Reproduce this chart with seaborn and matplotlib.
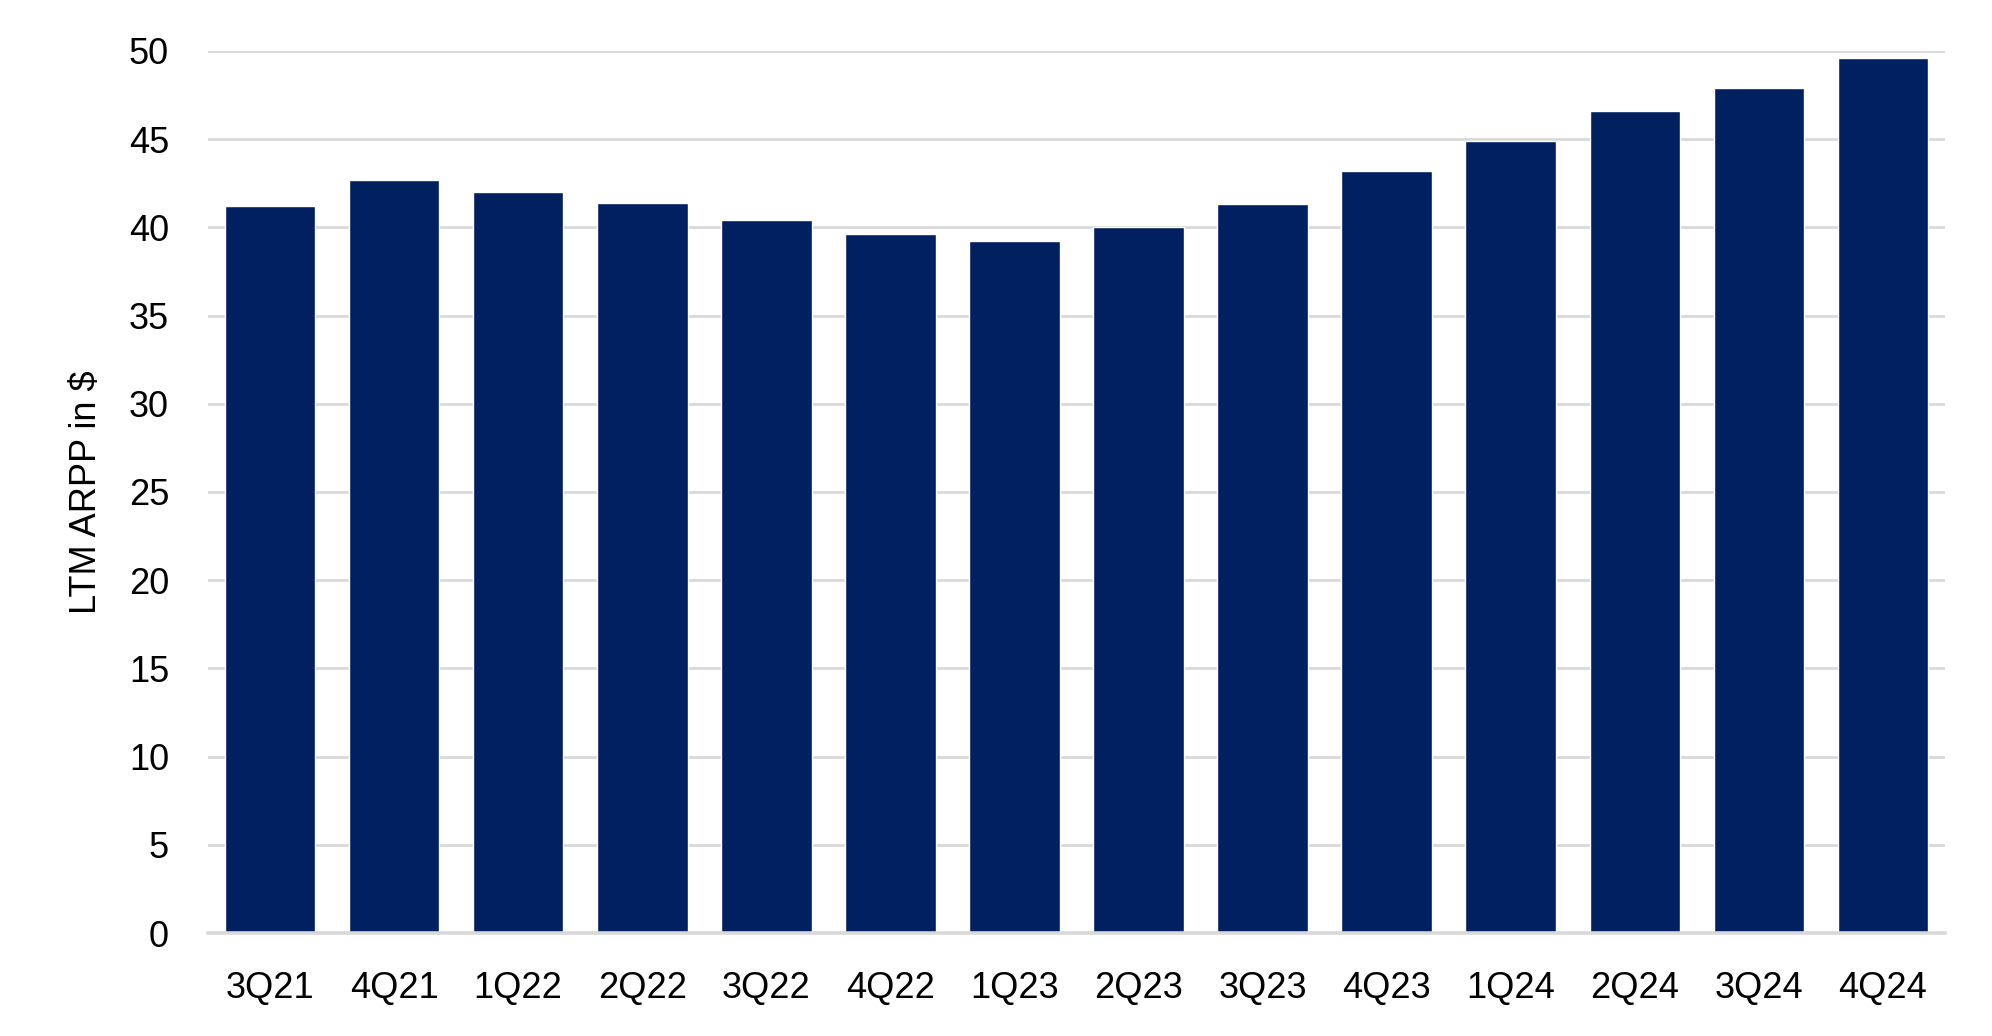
import matplotlib
matplotlib.use("Agg")
import matplotlib.pyplot as plt
import pandas as pd
import seaborn as sns

# 数据
quarters = ["3Q21", "4Q21", "1Q22", "2Q22", "3Q22", "4Q22", "1Q23",
            "2Q23", "3Q23", "4Q23", "1Q24", "2Q24", "3Q24", "4Q24"]
arpp = [41.2, 42.7, 42.0, 41.4, 40.4, 39.6, 39.2,
        40.0, 41.3, 43.2, 44.9, 46.6, 47.9, 49.6]
y_ticks = [0, 5, 10, 15, 20, 25, 30, 35, 40, 45, 50]

BAR_COLOR = "#00205F"
GRID_COLOR = "#D9D9D9"

sns.set_theme(style="white")
plt.rcParams["font.family"] = ["Liberation Sans", "DejaVu Sans"]

df = pd.DataFrame({"quarter": quarters, "arpp": arpp})

fig = plt.figure(figsize=(19.92, 10.36), dpi=100)
ax = fig.add_axes([0.1044, 0.0994, 0.872, 0.8514])

sns.barplot(data=df, x="quarter", y="arpp", color=BAR_COLOR,
            width=0.73, saturation=1, ax=ax, zorder=3)

ax.set_xlim(-0.5, len(quarters) - 0.5)
ax.set_ylim(0, 50)
ax.set_yticks(y_ticks)
ax.yaxis.grid(True, color=GRID_COLOR, linewidth=2.0, zorder=0)
ax.set_axisbelow(True)

for side in ["top", "right", "left"]:
    ax.spines[side].set_visible(False)
ax.spines["bottom"].set_color(GRID_COLOR)
ax.spines["bottom"].set_linewidth(2.6)
ax.spines["bottom"].set_zorder(4)

ax.tick_params(axis="y", length=0, pad=28, labelsize=26, labelcolor="#000000")
ax.tick_params(axis="x", length=0, pad=27, labelsize=26, labelcolor="#000000")

ax.set_xlabel("")
ax.set_ylabel("LTM ARPP in $", fontsize=26, color="#000000", labelpad=18)

fig.savefig("out.png", dpi=100)
plt.close(fig)
